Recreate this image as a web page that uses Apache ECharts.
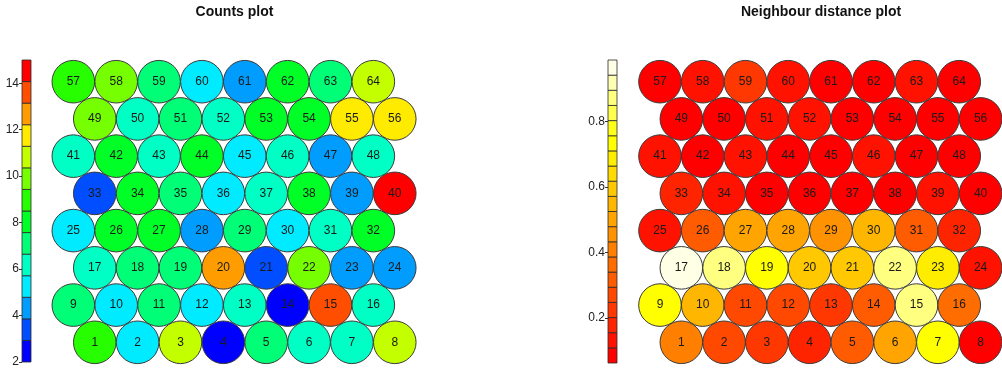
<!DOCTYPE html>
<html>
<head>
<meta charset="utf-8">
<script src="https://cdn.jsdelivr.net/npm/echarts@6/dist/echarts.min.js"></script>
<style>
  html, body { margin: 0; padding: 0; background: #fff; }
  #chart { width: 1002px; height: 368px; }
</style>
</head>
<body>
<div id="chart"></div>
<script>
// SOM grid: 8 x 8 hexagonal units, numbered from the bottom-left, row by row
const xdim = 8;
const ydim = 8;

// Number of samples mapped to each unit (units 1..64)
const countValues = [
  9, 5, 11, 2, 7, 6, 6, 11,
  7, 5, 7, 5, 6, 2, 14, 6,
  6, 7, 7, 13, 3, 10, 4, 4,
  5, 8, 8, 4, 7, 5, 6, 8,
  3, 8, 7, 5, 6, 8, 4, 15,
  6, 8, 6, 8, 5, 6, 4, 6,
  10, 6, 7, 6, 8, 8, 12, 12,
  9, 10, 7, 5, 4, 8, 7, 11
];

// Summed distance of each unit to its neighbours (units 1..64)
const distValues = [
  0.412, 0.270, 0.229, 0.181, 0.318, 0.503, 0.737, 0.088,
  0.731, 0.551, 0.283, 0.262, 0.221, 0.322, 0.871, 0.362,
  0.988, 0.868, 0.742, 0.598, 0.604, 0.877, 0.686, 0.128,
  0.135, 0.315, 0.508, 0.497, 0.458, 0.545, 0.327, 0.176,
  0.184, 0.131, 0.082, 0.091, 0.079, 0.095, 0.137, 0.085,
  0.128, 0.097, 0.124, 0.089, 0.093, 0.118, 0.084, 0.092,
  0.081, 0.099, 0.133, 0.141, 0.087, 0.078, 0.102, 0.090,
  0.086, 0.126, 0.231, 0.129, 0.063, 0.074, 0.138, 0.083
];

const countTicks = [2, 4, 6, 8, 10, 12, 14];
const distTicks = [0.2, 0.4, 0.6, 0.8];

const countTitle = 'Counts plot';
const distTitle = 'Neighbour distance plot';

// ---- colour palettes (R-style rainbow / heat.colors) ----
function hsv2hex(h, s, v) {
  h = ((h % 1) + 1) % 1;
  const i = Math.floor(h * 6), f = h * 6 - i;
  const p = v * (1 - s), q = v * (1 - f * s), t = v * (1 - (1 - f) * s);
  const rgb = [[v, t, p], [q, v, p], [p, v, t], [p, q, v], [t, p, v], [v, p, q]][i % 6];
  return '#' + rgb.map(c => Math.round(c * 255).toString(16).padStart(2, '0')).join('');
}
function rainbowPal(n) {
  const out = [];
  for (let k = 0; k < n; k++) out.push(hsv2hex((4 / 6) * k / (n - 1), 1, 1));
  return out.reverse(); // blue -> red
}
function heatPal(n) {
  const j = Math.floor(n / 4), i = n - j, out = [];
  for (let k = 0; k < i; k++) out.push(hsv2hex((1 / 6) * k / (i - 1), 1, 1));
  for (let k = 0; k < j; k++) {
    const s = (1 - 1 / (2 * j)) + ((1 / (2 * j)) - (1 - 1 / (2 * j))) * (j === 1 ? 0 : k / (j - 1));
    out.push(hsv2hex(1 / 6, s, 1));
  }
  return out;
}

const countPal = rainbowPal(14);
const distPal = heatPal(20);

function makeScale(values, pal) {
  const lo = Math.min(...values), hi = Math.max(...values);
  const n = pal.length, w = (hi - lo) / n;
  const binOf = v => Math.min(n - 1, Math.max(0, Math.floor((v - lo) / w)));
  const segments = pal.map((c, k) => [lo + k * w, lo + (k + 1) * w]);
  return { lo, hi, binOf, segments, pal };
}

const countScale = makeScale(countValues, countPal);
const distScale = makeScale(distValues, distPal);

// hexagonal unit coordinates: odd rows (0-based even) are shifted by half a unit
function unitData(values) {
  const h = Math.sqrt(3) / 2;
  return values.map((v, idx) => {
    const row = Math.floor(idx / xdim), col = idx % xdim;
    const x = col + (row % 2 === 0 ? 0.5 : 0);
    return [x, row * h, v, idx + 1];
  });
}

const FONT = '"Liberation Sans", Arial, sans-serif';
const yTop = (ydim - 1) * Math.sqrt(3) / 2 + 0.5;

function hexSeries(gridIdx, values, scale) {
  return {
    type: 'scatter',
    xAxisIndex: gridIdx, yAxisIndex: gridIdx,
    symbol: 'circle',
    symbolSize: 42.6,
    data: unitData(values),
    itemStyle: {
      color: p => scale.pal[scale.binOf(p.value[2])],
      borderColor: '#3a3a3a',
      borderWidth: 1,
      opacity: 1
    },
    label: {
      show: true, position: 'inside',
      formatter: p => String(p.value[3]),
      fontSize: 12, color: '#1a1a1a', fontFamily: FONT
    },
    emphasis: { disabled: true },
    z: 2
  };
}

function barSeries(gridIdx, scale) {
  return {
    type: 'custom',
    xAxisIndex: gridIdx, yAxisIndex: gridIdx,
    data: scale.segments,
    renderItem: (params, api) => {
      const p0 = api.coord([0, api.value(0)]);
      const p1 = api.coord([1, api.value(1)]);
      return {
        type: 'rect',
        shape: { x: p0[0], y: p1[1], width: p1[0] - p0[0], height: p0[1] - p1[1] },
        style: { fill: scale.pal[params.dataIndex], stroke: '#2a2a2a', lineWidth: 0.8 }
      };
    },
    silent: true
  };
}

function hexAxes(gridIdx) {
  return {
    x: { type: 'value', gridIndex: gridIdx, min: -0.5, max: xdim, show: false },
    y: { type: 'value', gridIndex: gridIdx, min: -0.5, max: yTop, show: false }
  };
}
function barAxes(gridIdx, scale, ticks) {
  return {
    x: { type: 'value', gridIndex: gridIdx, min: 0, max: 1, show: false },
    y: {
      type: 'value', gridIndex: gridIdx, min: scale.lo, max: scale.hi,
      splitLine: { show: false },
      axisLine: { show: false },
      axisTick: { show: true, length: 3, customValues: ticks, lineStyle: { color: '#333', width: 1 } },
      axisLabel: { customValues: ticks, fontSize: 12, color: '#222', margin: 3, fontFamily: FONT }
    }
  };
}

const axes = [
  hexAxes(0),
  barAxes(1, countScale, countTicks),
  hexAxes(2),
  barAxes(3, distScale, distTicks)
];

const chart = echarts.init(document.getElementById('chart'), null, { renderer: 'canvas' });
chart.setOption({
  animation: false,
  backgroundColor: '#ffffff',
  title: [
    { text: countTitle, left: 234.5, top: 5.5, textAlign: 'center', padding: 0,
      textStyle: { fontSize: 14, fontWeight: 'bold', color: '#111', fontFamily: FONT } },
    { text: distTitle, left: 821, top: 5.5, textAlign: 'center', padding: 0,
      textStyle: { fontSize: 14, fontWeight: 'bold', color: '#111', fontFamily: FONT } }
  ],
  grid: [
    { left: 51.9, top: 60.2, width: 364.3, height: 303.6 },
    { left: 22, top: 60, width: 9, height: 303 },
    { left: 638.6, top: 60.2, width: 364.3, height: 303.6 },
    { left: 608, top: 60, width: 9, height: 303 }
  ],
  xAxis: axes.map(a => a.x),
  yAxis: axes.map(a => a.y),
  series: [
    hexSeries(0, countValues, countScale),
    barSeries(1, countScale),
    hexSeries(2, distValues, distScale),
    barSeries(3, distScale)
  ]
});
</script>
</body>
</html>
